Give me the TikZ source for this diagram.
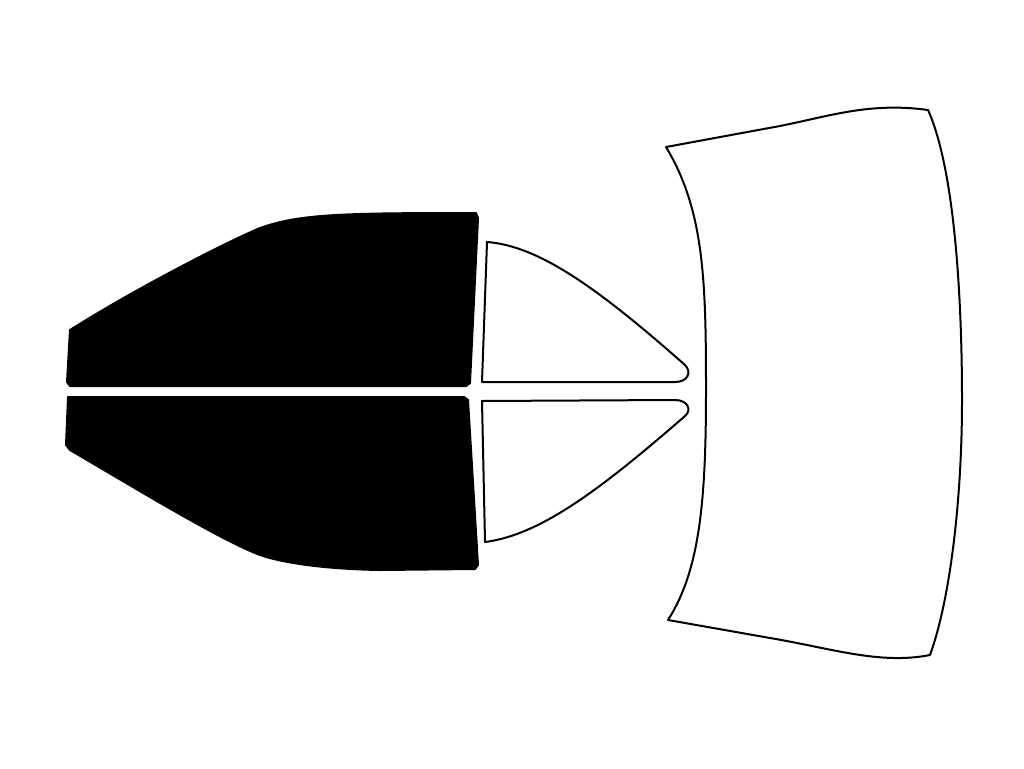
\documentclass[tikz,border=0pt]{standalone}
\begin{document}
\begin{tikzpicture}[x=1pt,y=-1pt,line join=round,
 win/.style={draw=black,line width=2pt,fill=white},
 tint/.style={draw=black,line width=2pt,fill=black}]
\useasboundingbox (0,0) rectangle (1024,768);
% black top
\draw[tint] (70,330) .. controls (130,292) and (220,245) .. (260,228) .. controls (300,214) and (340,213) .. (476,213) -- (478,218) -- (470,383) -- (466,386) -- (70,386) -- (67,382) -- cycle;
% black bottom
\draw[tint] (68,397) -- (464,397) -- (468,400) -- (478,565) -- (475,569) -- (380,570) .. controls (320,569) and (280,562) .. (260,555) .. controls (220,540) and (130,485) .. (70,450) -- (66,445) -- cycle;
% small white top
\draw[win] (487,242) .. controls (540,246) and (600,290) .. (685,365) .. controls (692,372) and (688,382) .. (675,382) -- (482,382) -- cycle;
% small white bottom
\draw[win] (482,401) -- (675,400) .. controls (688,400) and (692,410) .. (685,416) .. controls (600,490) and (540,535) .. (485,542) -- cycle;
% windshield
\draw[win] (666,147) -- (780,126) .. controls (830,116) and (870,102) .. (928,110) .. controls (955,170) and (962,300) .. (962,400) .. controls (962,500) and (950,600) .. (930,655) .. controls (880,665) and (830,648) .. (770,638) -- (668,620) .. controls (700,570) and (706,500) .. (706,390) .. controls (706,280) and (704,210) .. (666,147) -- cycle;
\end{tikzpicture}
\end{document}
